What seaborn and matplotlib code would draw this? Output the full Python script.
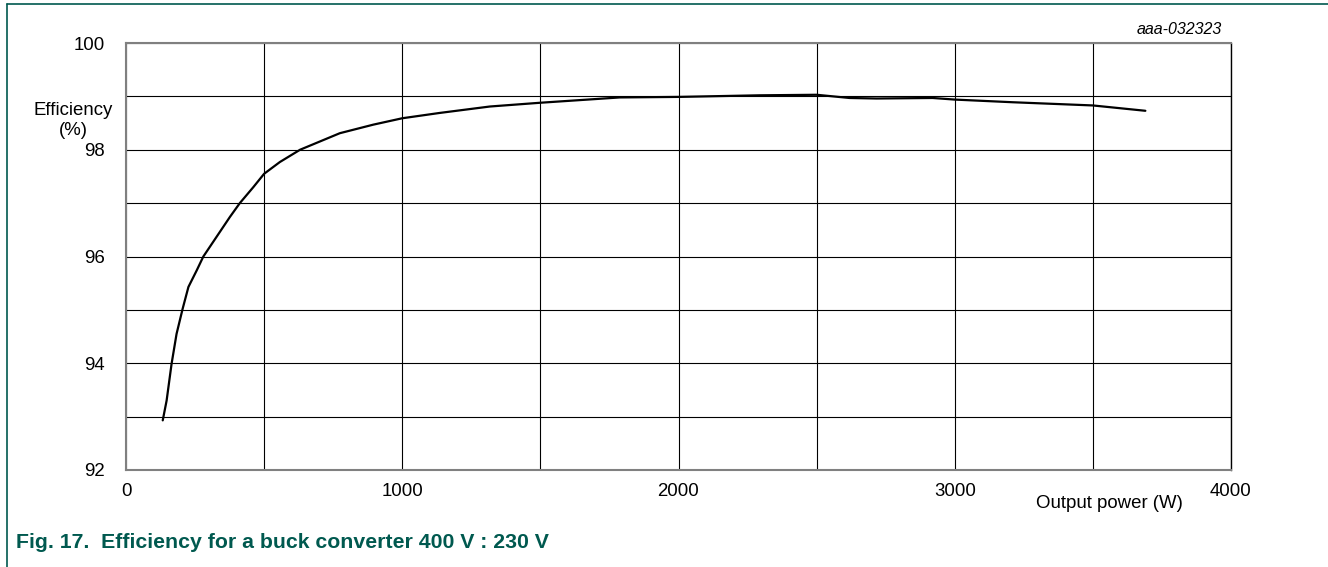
import numpy as np
import pandas as pd
import seaborn as sns
import matplotlib.pyplot as plt
from matplotlib.lines import Line2D

# output power (W) and efficiency (%)
power = [133, 147, 165, 183, 205, 226, 256, 280, 328, 376, 412, 461, 500, 557, 630,
         774, 895, 1000, 1136, 1317, 1498, 1787, 2000, 2294, 2500, 2619, 2717, 2920,
         3000, 3210, 3500, 3690]
efficiency = [92.93, 93.30, 93.99, 94.55, 95.02, 95.43, 95.74, 96.00, 96.37, 96.74,
              97.00, 97.30, 97.55, 97.77, 98.00, 98.31, 98.47, 98.59, 98.69, 98.81,
              98.88, 98.98, 98.99, 99.02, 99.03, 98.97, 98.96, 98.97, 98.94, 98.89,
              98.83, 98.73]

x_ticks = [0, 1000, 2000, 3000, 4000]
y_ticks = [92, 94, 96, 98, 100]

green = '#00594f'

sns.set_style("white")
plt.rcParams['font.family'] = ['Liberation Sans', 'DejaVu Sans']
plt.rcParams['text.color'] = 'black'
plt.rcParams['xtick.color'] = 'black'
plt.rcParams['ytick.color'] = 'black'

df = pd.DataFrame({'power': power, 'eff': efficiency})

fig = plt.figure(figsize=(13.28, 5.67), dpi=100)
ax = fig.add_axes([126 / 1328, 1 - 470 / 567, 1105 / 1328, 427 / 567])

sns.lineplot(data=df, x='power', y='eff', ax=ax, color='black', linewidth=1.6)

ax.set_xlim(0, 4000)
ax.set_ylim(92, 100)
ax.set_xticks(x_ticks)
ax.set_yticks(y_ticks)
ax.set_xticks(np.arange(0, 4001, 500), minor=True)
ax.set_yticks(np.arange(92, 100.1, 1), minor=True)
ax.grid(which='both', color='black', linewidth=0.8)
ax.tick_params(which='both', length=0)
ax.tick_params(axis='y', pad=15, labelsize=13.4)
ax.tick_params(axis='x', pad=9, labelsize=13.4)
ax.set_xlabel('')
ax.set_ylabel('')
for side in ['left', 'top', 'bottom']:
    ax.spines[side].set_color('#808080')
    ax.spines[side].set_linewidth(1.5)
ax.spines['right'].set_color('black')
ax.spines['right'].set_linewidth(1.0)

ax.text(-0.048, 98.55, 'Efficiency\n(%)', transform=ax.get_yaxis_transform(),
        ha='center', va='center', fontsize=13.4, linespacing=1.25)
ax.text(0.890, -0.078, 'Output power (W)', transform=ax.transAxes,
        ha='center', va='center', fontsize=13.4)

fig.text(1222 / 1328, 1 - 29 / 567, 'aaa-032323', ha='right', va='center',
         fontsize=11.5, style='italic')
fig.text(16 / 1328, 1 - 543 / 567, 'Fig. 17.  Efficiency for a buck converter 400 V : 230 V',
         ha='left', va='center', fontsize=15.3, fontweight='bold', color=green)

fig.add_artist(Line2D([7 / 1328, 7 / 1328], [0, 1 - 4 / 567], color=green, linewidth=1.2,
                      transform=fig.transFigure))
fig.add_artist(Line2D([7 / 1328, 1], [1 - 4 / 567, 1 - 4 / 567], color=green, linewidth=1.2,
                      transform=fig.transFigure))

fig.savefig('out.png', dpi=100)
